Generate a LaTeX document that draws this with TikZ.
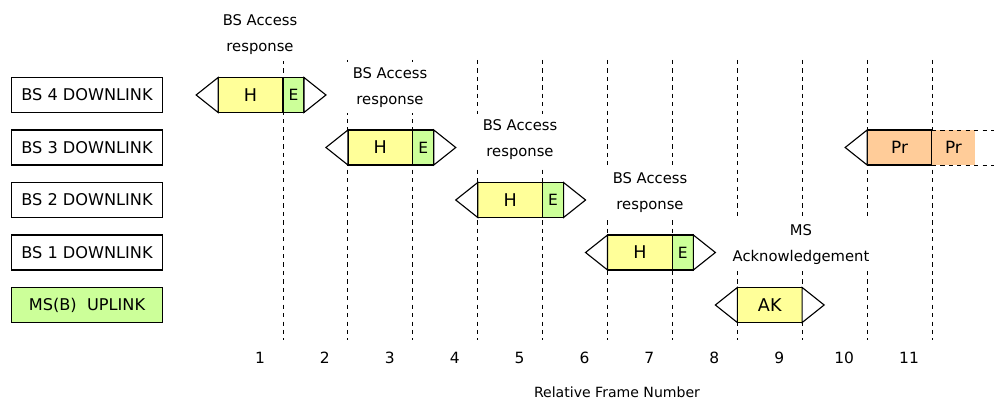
\documentclass[tikz,border=0pt]{standalone}
\usepackage{fontspec}
\setmainfont{DejaVu Sans}
\usetikzlibrary{positioning}
\definecolor{hyel}{HTML}{FFFF99}
\definecolor{egrn}{HTML}{CCFF99}
\definecolor{porg}{HTML}{FFCC99}

\begin{document}
\begin{tikzpicture}[
    x=0.025cm, y=-0.025cm,
    chan/.style={rectangle, draw=black, thick, minimum width=3.775cm, minimum height=0.875cm, align=center, font=\fontsize{11.5}{13}\selectfont},
    hdr/.style={rectangle, draw=black, thick, fill=hyel, minimum width=1.62cm, minimum height=0.875cm, inner sep=0pt, outer sep=0pt, font=\fontsize{12.5}{14}\selectfont},
    ext/.style={rectangle, draw=black, thick, fill=egrn, minimum width=0.525cm, minimum height=0.875cm, inner sep=0pt, outer sep=0pt, font=\fontsize{11}{13}\selectfont},
    pre/.style={rectangle, draw=black, thick, fill=porg, minimum width=1.62cm, minimum height=0.875cm, inner sep=0pt, outer sep=0pt, font=\fontsize{12}{14}\selectfont},
    prx/.style={rectangle, fill=porg, minimum width=1.075cm, minimum height=0.875cm, inner sep=0pt, outer sep=0pt, font=\fontsize{12}{14}\selectfont},
    tip/.style={draw=black, thick, fill=white, line join=miter},
    resp/.style={align=center, fill=white, minimum width=2.3cm, inner xsep=3pt, inner ysep=4pt, font=\fontsize{10.5}{18.5}\selectfont},
    frame/.style={dashed, line width=0.7pt},
    num/.style={font=\fontsize{11}{13}\selectfont}
]
\useasboundingbox (0,0) rectangle (994,399);

% Frame boundaries and numbers
\foreach \k in {1,...,11} {
    \draw[frame] ({283+(\k-1)*64.9},60) -- ({283+(\k-1)*64.9},340);
    \node[num] (n\k) at ({260+(\k-1)*64.9},358) {\k};
}
\node[font=\fontsize{10}{12}\selectfont] (xlab) at (617,392) {Relative Frame Number};

% Channels
\node[chan] (bs4) at (87,95) {BS 4 DOWNLINK};
\node[chan] (bs3) at (87,147.5) {BS 3 DOWNLINK};
\node[chan] (bs2) at (87,200) {BS 2 DOWNLINK};
\node[chan] (bs1) at (87,252.5) {BS 1 DOWNLINK};
\node[chan, fill=egrn] (ms) at (87,305) {MS(B)\ \ UPLINK};

% Labels above the bursts
\node[resp] (r4) at (260,35) {BS Access\\response};
\node[resp] (r3) at (390,87.5) {BS Access\\response};
\node[resp] (r2) at (520,140) {BS Access\\response};
\node[resp] (r1) at (650,192.5) {BS Access\\response};
\node[resp] (rak) at (801,245) {MS\\Acknowledgement};

% Bursts
\node[hdr] (h4) at (250.55,95) {H};
\node[ext, right=0pt of h4] (e4) {E};
\node[hdr] (h3) at (380.35,147.5) {H};
\node[ext, right=0pt of h3] (e3) {E};
\node[hdr] (h2) at (510.15,200) {H};
\node[ext, right=0pt of h2] (e2) {E};
\node[hdr] (h1) at (639.95,252.5) {H};
\node[ext, right=0pt of h1] (e1) {E};
\node[hdr] (ak) at (769.75,305) {AK};
\node[pre] (pr1) at (899.55,147.5) {Pr};
\node[prx, right=0pt of pr1] (pr2) {Pr};
\coordinate (prend) at (994,147.5);

% Arrow ends
\foreach \a/\b in {h4/e4, h3/e3, h2/e2, h1/e1, ak/ak} {
    \draw[tip] (\a.north west) -- ++(-22,17.5) -- (\a.south west) -- cycle;
    \draw[tip] (\b.north east) -- ++(22,17.5) -- (\b.south east) -- cycle;
}
\draw[tip] (pr1.north west) -- ++(-22,17.5) -- (pr1.south west) -- cycle;
\draw[frame] (pr1.north east) -- (pr1.north east -| prend);
\draw[frame] (pr1.south east) -- (pr1.south east -| prend);

\end{tikzpicture}
\end{document}
